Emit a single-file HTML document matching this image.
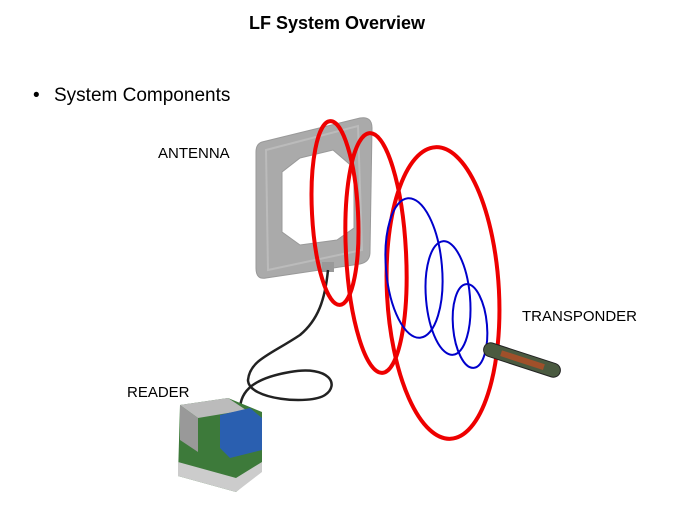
<!DOCTYPE html>
<html><head><meta charset="utf-8"><style>
body{margin:0;width:674px;height:506px;background:#fff;overflow:hidden;font-family:"Liberation Sans",sans-serif}
</style></head><body>
<svg width="674" height="506" xmlns="http://www.w3.org/2000/svg" font-family="Liberation Sans, sans-serif">
<text x="337" y="29" text-anchor="middle" font-size="18" font-weight="bold">LF System Overview</text>
<text x="33" y="101" font-size="19">•</text>
<text x="54" y="101" font-size="19">System Components</text>
<text x="158" y="158" font-size="15">ANTENNA</text>
<text x="127" y="397" font-size="15">READER</text>
<text x="522" y="321" font-size="15">TRANSPONDER</text>
<!-- antenna -->
<path d="M262 142 L360 118 Q372 116 372 128 L370 252 Q370 262 360 264 L266 278 Q256 280 256 268 L256 152 Q256 144 262 142 Z" fill="#aaa" stroke="#999"/>
<path d="M266 150 L358 126 L362 250 L268 270 Z" fill="none" stroke="#bbb" stroke-width="2"/>
<path d="M300 158 L333 150 L354 168 L354 228 L337 240 L300 245 L282 232 L282 172 Z" fill="#fff" stroke="#999"/>
<rect x="322" y="262" width="12" height="10" fill="#999"/>
<!-- cable -->
<path d="M328 270 C325 300 318 320 300 335 C270 355 250 360 248 380 C248 400 310 405 325 395 C340 385 330 365 290 372 C255 378 240 390 240 410" fill="none" stroke="#222" stroke-width="2.5"/>
<!-- reader -->
<path d="M180 405 L228 398 L262 412 L262 470 L236 492 L178 476 Z" fill="#3d7a3a"/>
<path d="M180 405 L228 398 L246 410 L198 418 Z" fill="#bbb"/>
<path d="M180 405 L198 418 L198 452 L180 440 Z" fill="#999"/>
<path d="M220 415 L250 408 L262 418 L262 450 L230 458 L220 448 Z" fill="#2a5fb0"/>
<path d="M178 462 L236 478 L262 462 L262 472 L236 492 L178 476 Z" fill="#ccc"/>
<!-- red coils -->
<g fill="none" stroke="#e00" stroke-width="4">
<ellipse cx="335" cy="213" rx="23" ry="92" transform="rotate(-3 335 213)"/>
<ellipse cx="376" cy="253" rx="30" ry="120" transform="rotate(-3 376 253)"/>
<ellipse cx="443" cy="293" rx="56" ry="146" transform="rotate(-3 443 293)"/>
</g>
<g fill="none" stroke="#00c" stroke-width="2">
<ellipse cx="414" cy="268" rx="28" ry="70" transform="rotate(-5 414 268)"/>
<ellipse cx="448" cy="298" rx="22" ry="57" transform="rotate(-5 448 298)"/>
<ellipse cx="470" cy="326" rx="17" ry="42" transform="rotate(-5 470 326)"/>
</g>
<!-- transponder -->
<g transform="rotate(18 522 360)">
<rect x="482" y="353" width="80" height="14" rx="7" fill="#4a5a40" stroke="#222"/>
<rect x="500" y="357" width="45" height="6" fill="#a0502a"/>
</g>
</svg>
</body></html>
